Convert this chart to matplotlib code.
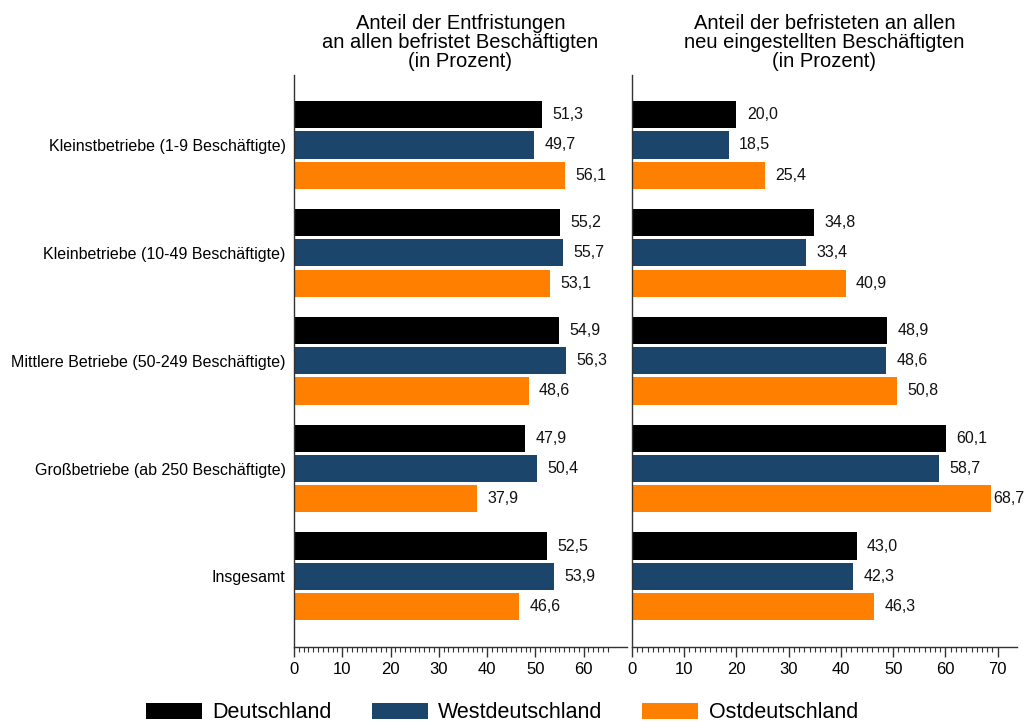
import numpy as np
import matplotlib
matplotlib.use("Agg")
import matplotlib.pyplot as plt
from matplotlib.ticker import FixedLocator
from matplotlib.patches import Patch

plt.rcParams['font.family'] = ['Liberation Sans', 'DejaVu Sans']

# Data
categories = ["Kleinstbetriebe (1-9 Beschäftigte)",
              "Kleinbetriebe (10-49 Beschäftigte)",
              "Mittlere Betriebe (50-249 Beschäftigte)",
              "Großbetriebe (ab 250 Beschäftigte)",
              "Insgesamt"]
series = ["Deutschland", "Westdeutschland", "Ostdeutschland"]
colors = ["#000000", "#1b456b", "#ff7f00"]

entfrist_de = [51.3, 55.2, 54.9, 47.9, 52.5]
entfrist_west = [49.7, 55.7, 56.3, 50.4, 53.9]
entfrist_ost = [56.1, 53.1, 48.6, 37.9, 46.6]

befrist_de = [20.0, 34.8, 48.9, 60.1, 43.0]
befrist_west = [18.5, 33.4, 48.6, 58.7, 42.3]
befrist_ost = [25.4, 40.9, 50.8, 68.7, 46.3]

titles = ["Anteil der Entfristungen\nan allen befristet Beschäftigten\n(in Prozent)",
          "Anteil der befristeten an allen\nneu eingestellten Beschäftigten\n(in Prozent)"]

W, H = 1029, 724
fig = plt.figure(figsize=(W / 100, H / 100), dpi=100)

ax_top = 1 - 75 / H
ax_bot = 1 - 647 / H
ax1 = fig.add_axes([294 / W, ax_bot, (627 - 294) / W, ax_top - ax_bot])
ax2 = fig.add_axes([632 / W, ax_bot, (1017 - 632) / W, ax_top - ax_bot])

group_gap = 3.56
bar_h = 0.9
spine_col = "#333333"


def draw(ax, data, xmax, tickmax, title, show_labels):
    for j, vals in enumerate(data):
        y = np.arange(len(categories)) * group_gap + j
        ax.barh(y, vals, height=bar_h, color=colors[j], edgecolor='none')
        for yy, v in zip(y, vals):
            # labels near the right edge sit closer to their bar so they fit
            off = 2 if v > xmax - 6 else 7.5
            ax.annotate(f"{v:.1f}".replace(".", ","), (v, yy), xytext=(off, 0),
                        textcoords="offset points", va="center", ha="left",
                        fontsize=11.5, color="#111111", annotation_clip=False)
    ax.set_xlim(0, xmax)
    ax.set_ylim(16.0 + 0.45 + 0.88 + 0.24, -1.31)
    ax.set_xticks(np.arange(0, tickmax + 1, 10))
    ax.xaxis.set_minor_locator(FixedLocator(np.arange(0, tickmax + 1, 1)))
    ax.tick_params(axis='x', which='major', length=7, width=1, color=spine_col,
                   labelsize=12, pad=4)
    ax.tick_params(axis='x', which='minor', length=3.5, width=0.8, color=spine_col)
    for s in ["top", "right"]:
        ax.spines[s].set_visible(False)
    for s in ["left", "bottom"]:
        ax.spines[s].set_color(spine_col)
        ax.spines[s].set_linewidth(1)
    centers = np.arange(len(categories)) * group_gap + 1
    ax.set_yticks(centers)
    if show_labels:
        ax.set_yticklabels(categories, fontsize=11.5)
    else:
        ax.set_yticklabels([])
    ax.tick_params(axis='y', length=0, pad=6)
    ax.set_title(title, fontsize=14.5, linespacing=1.0, pad=6)


draw(ax1, [entfrist_de, entfrist_west, entfrist_ost], 69, 65, titles[0], True)
draw(ax2, [befrist_de, befrist_west, befrist_ost], 73.7, 70, titles[1], False)

handles = [Patch(facecolor=c, edgecolor='none') for c in colors]
fig.legend(handles, series, loc="center", bbox_to_anchor=(502 / W, 1 - 713 / H),
           ncol=3, frameon=False, fontsize=15.5, handlelength=2.6,
           handleheight=0.7, handletextpad=0.48, columnspacing=1.85,
           borderpad=0, borderaxespad=0)

fig.savefig("out.png", dpi=100)
